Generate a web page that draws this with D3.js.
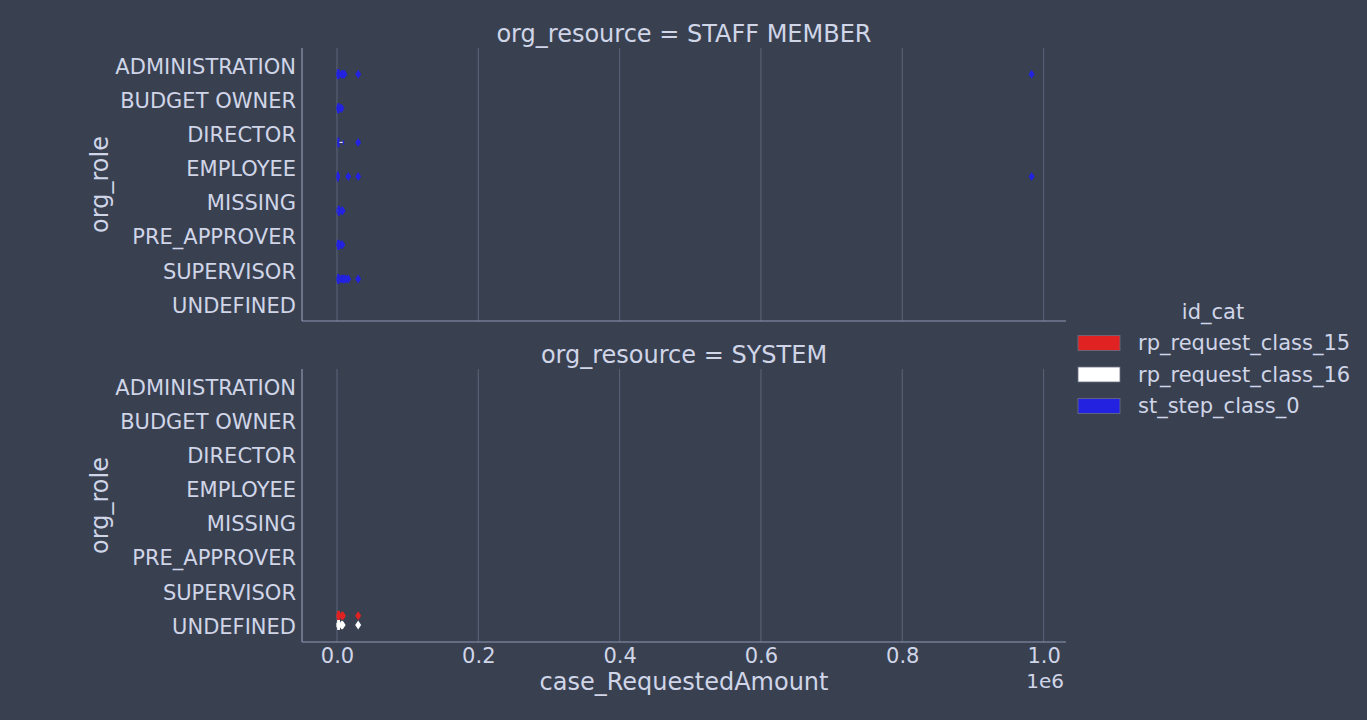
<!DOCTYPE html>
<html><head><meta charset="utf-8">
<script src="https://cdn.jsdelivr.net/npm/d3@7"></script>
<style>
html,body{margin:0;padding:0;background:#394151;}
svg{display:block;}
text{font-family:"DejaVu Sans",sans-serif;fill:#d0d5e8;}
</style></head>
<body>
<svg id="chart" width="1367" height="720"></svg>
<script>
// ---------------- data ----------------
const roles = ["ADMINISTRATION","BUDGET OWNER","DIRECTOR","EMPLOYEE","MISSING","PRE_APPROVER","SUPERVISOR","UNDEFINED"];
const resources = ["STAFF MEMBER","SYSTEM"];
const hues = ["rp_request_class_15","rp_request_class_16","st_step_class_0"];
const hueColors = ["#e02222","#ffffff","#2222e0"];
const xTicks = [0, 200000, 400000, 600000, 800000, 1000000];
const xTickLabels = ["0.0","0.2","0.4","0.6","0.8","1.0"];

// box stats: [whiskerLow, q1, median, q3, whiskerHigh]
const staffStepStats = [
  [0, 500, 1500, 3000, 5000],
  [0, 800, 1800, 3000, 4500],
  [1500, 1500, 2000, 2500, 9000],
  [0, 500, 1000, 2000, 3500],
  [0, 1500, 2500, 4000, 6000],
  [0, 1000, 2000, 3500, 5000],
  [0, 1000, 2000, 3000, 5000],
  null
];
const staffStepOutliers = [
  [6500, 8000, 9500, 10500, 30000, 983000],
  [5500, 6500],
  [30000],
  [16000, 30000, 983000],
  [7000, 8000],
  [6000, 7500],
  [6000, 7500, 9000, 10500, 13000, 16000, 30000],
  []
];
const systemClass15Stats = [null,null,null,null,null,null,null,[0, 1000, 2000, 3500, 5500]];
const systemClass15Outliers = [[],[],[],[],[],[],[],[7000, 8500, 30000]];
const systemClass16Stats = [null,null,null,null,null,null,null,[0, 1000, 2000, 3500, 5500]];
const systemClass16Outliers = [[],[],[],[],[],[],[],[6500, 8000, 30000]];

const panels = [
  {resource: resources[0], series: [{hue: 2, stats: staffStepStats, out: staffStepOutliers}]},
  {resource: resources[1], series: [
    {hue: 0, stats: systemClass15Stats, out: systemClass15Outliers},
    {hue: 1, stats: systemClass16Stats, out: systemClass16Outliers}]}
];

// ---------------- drawing ----------------
const svg = d3.select("#chart");
const left = 302, right = 1066;
const panelTops = [48, 369], panelH = 273;
const x = d3.scaleLinear().domain([-49500, 1031700]).range([left, right]);
const gridColor = "#5b6477", spineColor = "#8d97b3", lineColor = "#d6d8ee";
const diamond = "M0,-4.5L3,0L0,4.5L-3,0Z";
const tickFont = "21px", labelFont = "24px";

panels.forEach((p, pi) => {
  const top = panelTops[pi], bottom = top + panelH;
  const y = d3.scaleBand().domain(roles).range([top, bottom]).padding(0);
  const bw = y.bandwidth();
  const hy = d3.scaleBand().domain(d3.range(hues.length)).range([-0.4*bw, 0.4*bw]);
  const g = svg.append("g");

  // grid
  g.selectAll("line.grid").data(xTicks).join("line")
    .attr("x1", d => x(d)).attr("x2", d => x(d))
    .attr("y1", top).attr("y2", bottom)
    .attr("stroke", gridColor).attr("stroke-width", 1);

  // y axis labels
  const ya = g.append("g").attr("transform", `translate(${left},2)`)
    .call(d3.axisLeft(y).tickSize(0).tickPadding(6));
  ya.select(".domain").remove();
  ya.selectAll("text").style("font-size", tickFont).attr("fill","#d0d5e8")
    .style("font-family","DejaVu Sans");

  // spines
  g.append("line").attr("x1", left).attr("x2", left).attr("y1", top).attr("y2", bottom)
    .attr("stroke", spineColor).attr("stroke-width", 1.2);
  g.append("line").attr("x1", left).attr("x2", right).attr("y1", bottom).attr("y2", bottom)
    .attr("stroke", spineColor).attr("stroke-width", 1.2);

  // title
  g.append("text").attr("x", (left+right)/2).attr("y", top - 6)
    .attr("text-anchor","middle").style("font-size", labelFont)
    .text(`org_resource = ${p.resource}`);
  // y label
  g.append("text").attr("transform", `translate(108,${(top+bottom)/2}) rotate(-90)`)
    .attr("text-anchor","middle").style("font-size", labelFont).text("org_role");

  // boxes
  p.series.forEach(s => {
    const color = hueColors[s.hue];
    const hbw = hy.bandwidth() * 0.98;
    roles.forEach((r, ri) => {
      const st = s.stats[ri];
      const cy = y(r) + bw/2 + hy(s.hue) + hy.bandwidth()/2;
      const bg = g.append("g");
      if (st) {
        const [lo, q1, med, q3, hi] = st;
        bg.append("line").attr("x1", x(lo)).attr("x2", x(q1)).attr("y1", cy).attr("y2", cy)
          .attr("stroke", lineColor).attr("stroke-width", 1.2);
        bg.append("line").attr("x1", x(q3)).attr("x2", x(hi)).attr("y1", cy).attr("y2", cy)
          .attr("stroke", lineColor).attr("stroke-width", 1.2);
        [lo, hi].forEach(v => bg.append("line").attr("x1", x(v)).attr("x2", x(v))
          .attr("y1", cy - hbw/4).attr("y2", cy + hbw/4).attr("stroke", color).attr("stroke-width", 1.2));
        bg.append("rect").attr("x", x(q1)).attr("width", Math.max(1, x(q3)-x(q1)))
          .attr("y", cy - hbw/2).attr("height", hbw).attr("fill", color).attr("stroke", color).attr("stroke-width", 1);
        bg.append("line").attr("x1", x(med)).attr("x2", x(med)).attr("y1", cy - hbw/2).attr("y2", cy + hbw/2)
          .attr("stroke", color).attr("stroke-width", 1.2);
      }
      bg.selectAll("path").data(s.out[ri]).join("path")
        .attr("d", diamond).attr("transform", d => `translate(${x(d)},${cy})`)
        .attr("fill", color);
    });
  });

  // x axis on bottom panel
  if (pi === panels.length - 1) {
    const xa = g.append("g").attr("transform", `translate(0,${bottom})`)
      .call(d3.axisBottom(x).tickValues(xTicks).tickFormat((d,i) => xTickLabels[i]).tickSize(0).tickPadding(6));
    xa.select(".domain").remove();
    xa.selectAll("text").style("font-size", tickFont).attr("fill","#d0d5e8").style("font-family","DejaVu Sans");
    g.append("text").attr("x", (left+right)/2).attr("y", bottom + 48)
      .attr("text-anchor","middle").style("font-size", labelFont).text("case_RequestedAmount");
    g.append("text").attr("x", right - 2).attr("y", bottom + 46)
      .attr("text-anchor","end").style("font-size", "20px").text("1e6");
  }
});

// legend
const lg = svg.append("g");
lg.append("text").attr("x", 1213).attr("y", 319).attr("text-anchor","middle")
  .style("font-size", tickFont).text("id_cat");
hues.forEach((h, i) => {
  const cy = 343 + i*31.5;
  lg.append("rect").attr("x", 1078).attr("y", cy - 7.5).attr("width", 42).attr("height", 15)
    .attr("fill", hueColors[i]).attr("stroke", "#6a6f80").attr("stroke-width", 0.8);
  lg.append("text").attr("x", 1138).attr("y", cy).attr("dominant-baseline","central")
    .style("font-size", tickFont).text(h);
});
</script>
</body></html>
